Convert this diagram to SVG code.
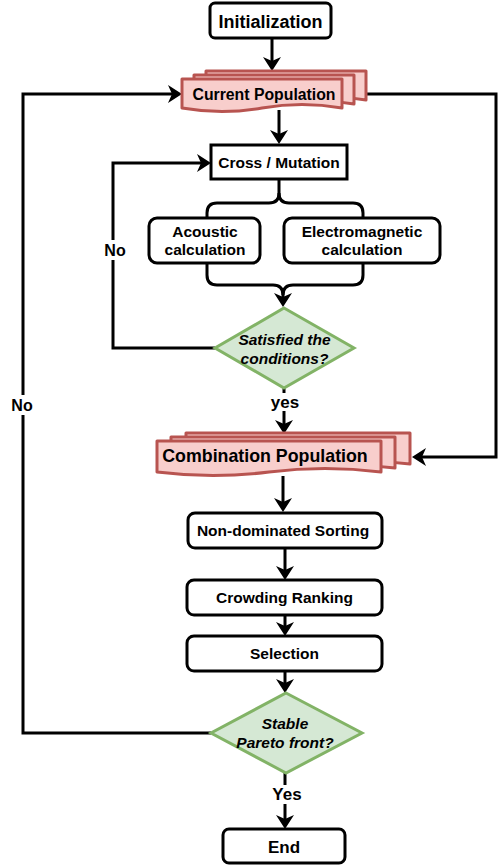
<svg xmlns="http://www.w3.org/2000/svg" width="498" height="866" viewBox="0 0 498 866">
<style>
text{font-family:"Liberation Sans",Arial,sans-serif;font-weight:bold;fill:#000;text-anchor:middle}
.box{fill:#fff;stroke:#000;stroke-width:3}
.doc{fill:#f8cecc;stroke:#b85450;stroke-width:3;stroke-linejoin:round}
.dia{fill:#d5e8d4;stroke:#82b366;stroke-width:3}
.ln{fill:none;stroke:#000;stroke-width:3}
.t{font-size:15.5px}
.it{font-size:15.5px;font-style:italic}
</style>
<defs>
<marker id="ah" viewBox="0 0 14 18" refX="8" refY="9" markerWidth="14" markerHeight="18" markerUnits="userSpaceOnUse" orient="auto">
<path d="M0,0 L14,9 L0,18 L4,9 Z" fill="#000"/>
</marker>
<path id="docCP" d="M0,0 H160 V29 Q120,22 80,29 Q40,36 0,29 Z"/>
<path id="docCB" d="M0,0 H224 V31 Q168,24 112,31 Q56,38 0,31 Z"/>
</defs>

<g id="connectors">
<path class="ln" d="M272,38 V65" marker-end="url(#ah)"/>
<path class="ln" d="M279,110 V138" marker-end="url(#ah)"/>
<path class="ln" d="M279,179 V193 Q279,203 269,203 H217 Q207,203 207,213 V218"/>
<path class="ln" d="M279,193 Q279,203 289,203 H353 Q363,203 363,213 V218"/>
<path class="ln" d="M207,263 V275 Q207,285 217,285 H273 Q283,285 283,295 V301" marker-end="url(#ah)"/>
<path class="ln" d="M363,263 V275 Q363,285 353,285 H293 Q283,285 283,295"/>
<path class="ln" d="M215,348 H113 V163 H205" marker-end="url(#ah)"/>
<path class="ln" d="M284,388 V428" marker-end="url(#ah)"/>
<path class="ln" d="M283,476 V506" marker-end="url(#ah)"/>
<path class="ln" d="M285,548 V574" marker-end="url(#ah)"/>
<path class="ln" d="M285,615 V630" marker-end="url(#ah)"/>
<path class="ln" d="M285,671 V687" marker-end="url(#ah)"/>
<path class="ln" d="M285,773 V823" marker-end="url(#ah)"/>
<path class="ln" d="M211,733 H23 V94 H176" marker-end="url(#ah)"/>
<path class="ln" d="M360,94 H496 V457 H418" marker-end="url(#ah)"/>
<rect x="100" y="240" width="30" height="20" fill="#fff"/>
<text x="115" y="256" style="font-size:16px">No</text>
<rect x="8" y="395" width="30" height="20" fill="#fff"/>
<text x="22" y="411" style="font-size:16px">No</text>
<rect x="268" y="393" width="34" height="18" fill="#fff"/>
<text x="285" y="408" style="font-size:17px">yes</text>
<rect x="268" y="785" width="36" height="19" fill="#fff"/>
<text x="287" y="800" style="font-size:17px">Yes</text>
</g>

<g id="initialization">
<rect class="box" x="210" y="3" width="121" height="35" rx="5"/>
<text x="270.5" y="28" style="font-size:18px">Initialization</text>
</g>

<g id="current-population">
<use href="#docCP" class="doc" x="206" y="71"/>
<use href="#docCP" class="doc" x="194" y="75"/>
<use href="#docCP" class="doc" x="182" y="79"/>
<text x="264" y="100" style="font-size:15.8px">Current Population</text>
</g>

<g id="cross-mutation">
<rect class="box" x="211" y="145" width="136" height="34"/>
<text class="t" x="279" y="168">Cross / Mutation</text>
</g>

<g id="acoustic">
<rect class="box" x="149" y="218" width="111" height="45" rx="8"/>
<text class="t" x="205" y="237">Acoustic</text>
<text class="t" x="205" y="255">calculation</text>
</g>

<g id="electromagnetic">
<rect class="box" x="284" y="218" width="156" height="45" rx="8"/>
<text class="t" x="362" y="237">Electromagnetic</text>
<text class="t" x="362" y="255">calculation</text>
</g>

<g id="satisfied">
<polygon class="dia" points="284,308 354,348 284,388 215,348"/>
<text class="it" x="284.5" y="345">Satisfied the</text>
<text class="it" x="284.5" y="364">conditions?</text>
</g>

<g id="combination-population">
<use href="#docCB" class="doc" x="186" y="433"/>
<use href="#docCB" class="doc" x="171" y="437"/>
<use href="#docCB" class="doc" x="157" y="441"/>
<text x="265" y="462" style="font-size:17.8px">Combination Population</text>
</g>

<g id="non-dominated">
<rect class="box" x="188" y="513" width="194" height="35" rx="7"/>
<text class="t" x="283" y="536">Non-dominated Sorting</text>
</g>

<g id="crowding">
<rect class="box" x="187" y="580" width="195" height="35" rx="7"/>
<text class="t" x="284.5" y="603">Crowding Ranking</text>
</g>

<g id="selection">
<rect class="box" x="187" y="636" width="195" height="35" rx="7"/>
<text class="t" x="284.5" y="659">Selection</text>
</g>

<g id="stable">
<polygon class="dia" points="286,693 362,733 286,773 211,733"/>
<text class="it" x="285" y="729">Stable</text>
<text class="it" x="285" y="748">Pareto front?</text>
</g>

<g id="end">
<rect class="box" x="223" y="829" width="122" height="34" rx="6"/>
<text x="284" y="853" style="font-size:17px">End</text>
</g>
</svg>
